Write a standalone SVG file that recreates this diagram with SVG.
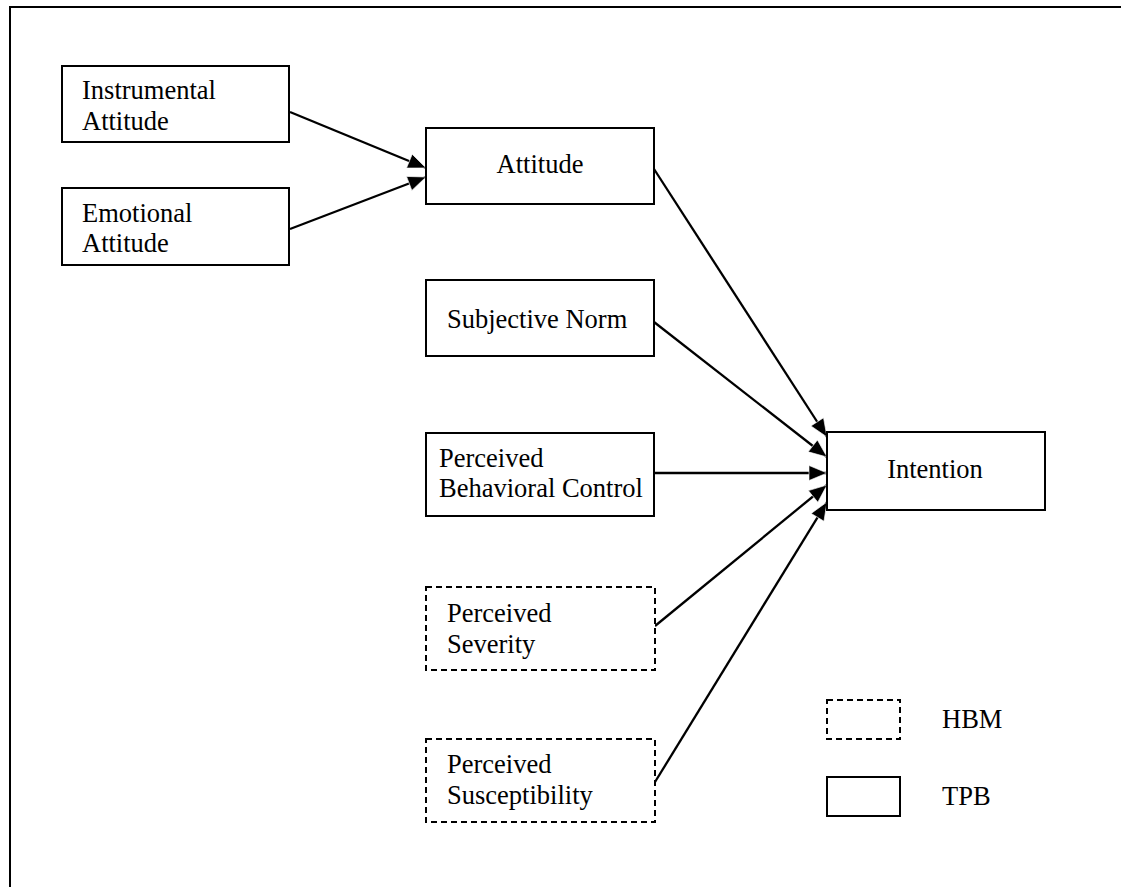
<svg xmlns="http://www.w3.org/2000/svg" width="1121" height="887" viewBox="0 0 1121 887">
  <style>
    .box { fill: #fff; stroke: #000; stroke-width: 2; }
    .dash { fill: #fff; stroke: #000; stroke-width: 2; stroke-dasharray: 6 4; }
    .lbl { font-family: "Liberation Serif", "Times New Roman", serif; font-size: 26.5px; fill: #000; }
    .mid { text-anchor: middle; }
    .edge { stroke: #000; stroke-width: 2.3; fill: none; marker-end: url(#arrow); }
  </style>
  <defs>
    <marker id="arrow" markerUnits="userSpaceOnUse" markerWidth="20" markerHeight="18" viewBox="0 0 20 18" refX="19" refY="9" orient="auto">
      <path d="M1,1.5 L19,9 L1,16.5 Z" fill="#000" stroke="#fff" stroke-width="0.6"/>
    </marker>
  </defs>

  <rect width="1121" height="887" fill="#fff"/>
  <!-- page frame (only top and left edges fall inside the page) -->
  <rect x="10" y="7" width="1130" height="900" fill="none" stroke="#000" stroke-width="2"/>

  <g id="connectors">
    <line class="edge" x1="290" y1="112" x2="426" y2="168"/>
    <line class="edge" x1="290" y1="229" x2="426" y2="177"/>
    <line class="edge" x1="654" y1="169" x2="827" y2="437"/>
    <line class="edge" x1="654" y1="322" x2="827" y2="457"/>
    <line class="edge" x1="654" y1="473" x2="827" y2="473"/>
    <line class="edge" x1="655" y1="626" x2="827" y2="485"/>
    <line class="edge" x1="655" y1="782" x2="827" y2="502"/>
  </g>

  <g id="instrumental-attitude">
    <rect class="box" x="62" y="66" width="227" height="76"/>
    <text class="lbl" x="82" y="99">Instrumental</text>
    <text class="lbl" x="82" y="130">Attitude</text>
  </g>

  <g id="emotional-attitude">
    <rect class="box" x="62" y="188" width="227" height="77"/>
    <text class="lbl" x="82" y="222">Emotional</text>
    <text class="lbl" x="82" y="252">Attitude</text>
  </g>

  <g id="attitude">
    <rect class="box" x="426" y="128" width="228" height="76"/>
    <text class="lbl mid" x="540" y="173">Attitude</text>
  </g>

  <g id="subjective-norm">
    <rect class="box" x="426" y="280" width="228" height="76"/>
    <text class="lbl" x="447" y="328">Subjective Norm</text>
  </g>

  <g id="perceived-behavioral-control">
    <rect class="box" x="426" y="433" width="228" height="83"/>
    <text class="lbl" x="439" y="467">Perceived</text>
    <text class="lbl" x="439" y="497">Behavioral Control</text>
  </g>

  <g id="perceived-severity">
    <rect class="dash" x="426" y="587" width="229" height="83"/>
    <text class="lbl" x="447" y="622">Perceived</text>
    <text class="lbl" x="447" y="653">Severity</text>
  </g>

  <g id="perceived-susceptibility">
    <rect class="dash" x="426" y="739" width="229" height="83"/>
    <text class="lbl" x="447" y="773">Perceived</text>
    <text class="lbl" x="447" y="804">Susceptibility</text>
  </g>

  <g id="intention">
    <rect class="box" x="827" y="432" width="218" height="78"/>
    <text class="lbl mid" x="935" y="478">Intention</text>
  </g>

  <g id="legend">
    <rect class="dash" x="827" y="700" width="73" height="39"/>
    <text class="lbl" x="942" y="728">HBM</text>
    <rect class="box" x="827" y="777" width="73" height="39"/>
    <text class="lbl" x="942" y="805">TPB</text>
  </g>
</svg>
